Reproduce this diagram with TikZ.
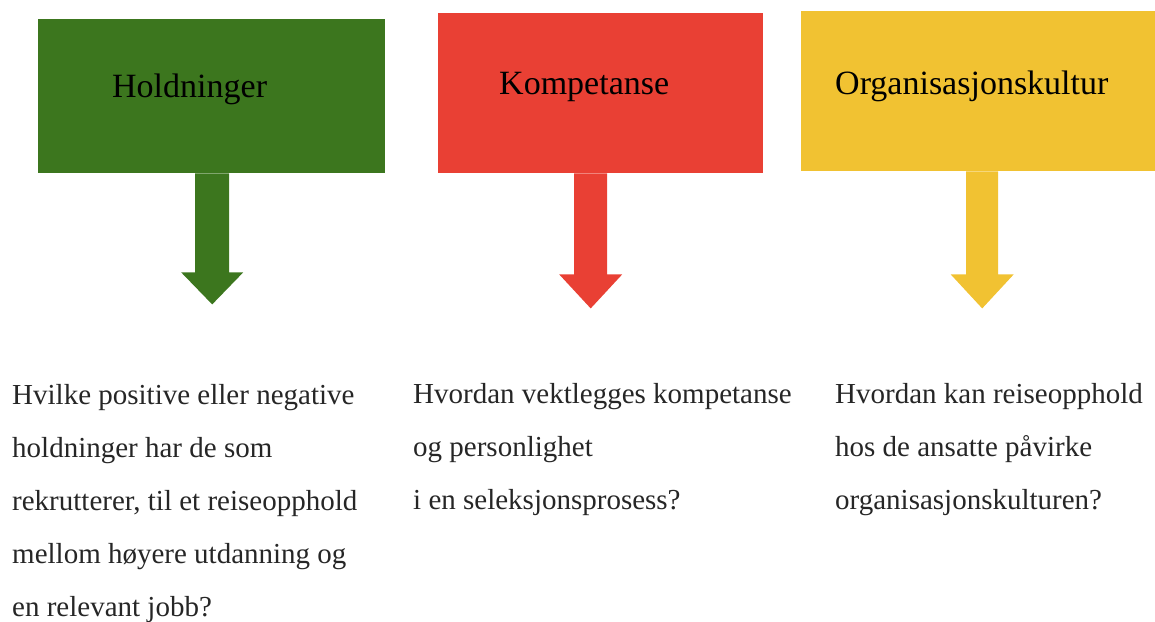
\documentclass[tikz,border=0pt]{standalone}
\usepackage{fontspec}
\setmainfont{Liberation Serif}
\definecolor{cgreen}{HTML}{3C761E}
\definecolor{cred}{HTML}{E94034}
\definecolor{cyellow}{HTML}{F1C232}
\definecolor{ctext}{HTML}{262626}
\tikzset{
  box/.style={rectangle, draw=none, inner sep=0pt, anchor=north west},
  head/.style={inner sep=0pt, anchor=base west, text=black, font=\fontsize{34}{40}\selectfont},
  body/.style={inner sep=0pt, anchor=base west, align=left, text=ctext, font=\fontsize{29}{53}\selectfont}
}
\begin{document}
\begin{tikzpicture}[x=1pt,y=-1pt]
\useasboundingbox (0,0) rectangle (1155,621);
% boxes
\node[box, fill=cgreen, minimum width=347pt, minimum height=154pt] (b1) at (38,19) {};
\node[box, fill=cred, minimum width=325pt, minimum height=160pt] (b2) at (438,13) {};
\node[box, fill=cyellow, minimum width=354pt, minimum height=160pt] (b3) at (801,11) {};
% arrows
\fill[cgreen] ([xshift=-16.5pt]b1.south) -- ++(34,0) -- ++(0,99) -- ++(14,0) -- ++(-31,32) -- ++(-31,-32) -- ++(14,0) -- cycle;
\fill[cred] ([xshift=-26.5pt]b2.south) -- ++(33,0) -- ++(0,101) -- ++(15,0) -- ++(-31.5,34) -- ++(-31.5,-34) -- ++(15,0) -- cycle;
\fill[cyellow] ([xshift=-12pt]b3.south) -- ++(32,0) -- ++(0,103) -- ++(15.5,0) -- ++(-31.5,34) -- ++(-31.5,-34) -- ++(15.5,0) -- cycle;
% headings
\node[head] (t1) at (112,97) {Holdninger};
\node[head] (t2) at (499,94) {Kompetanse};
\node[head] (t3) at (835,94) {Organisasjonskultur};
% questions (anchor = baseline of the last line)
\node[body] (q1) at (12,616) {Hvilke positive eller negative\\holdninger har de som\\rekrutterer, til et reiseopphold\\mellom høyere utdanning og\\en relevant jobb?};
\node[body] (q2) at (413,509) {Hvordan vektlegges kompetanse\\og personlighet\\i en seleksjonsprosess?};
\node[body] (q3) at (835,509) {Hvordan kan reiseopphold\\hos de ansatte påvirke\\organisasjonskulturen?};
\end{tikzpicture}
\end{document}
